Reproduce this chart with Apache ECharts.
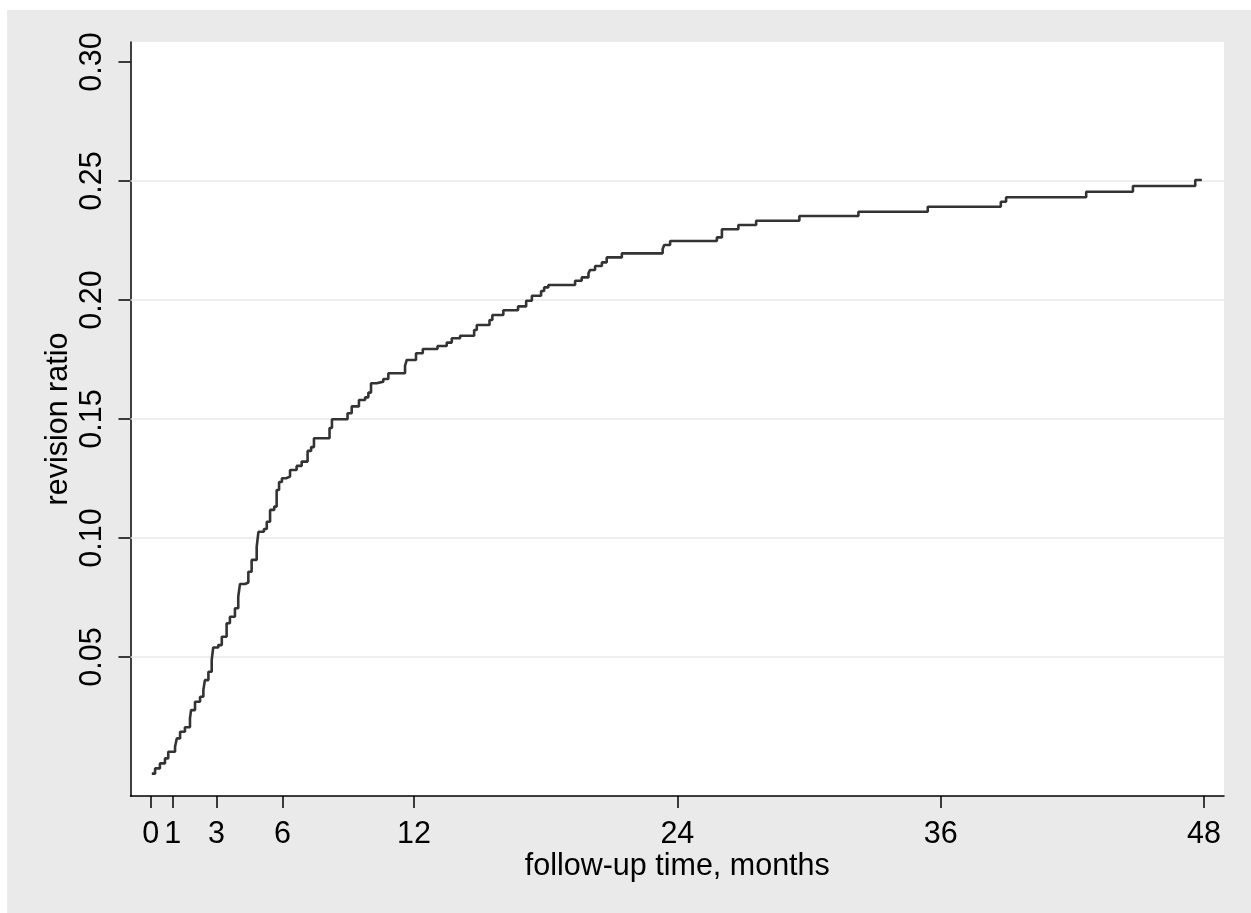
<!DOCTYPE html>
<html>
<head>
<meta charset="utf-8">
<script src="https://cdn.jsdelivr.net/npm/echarts@6/dist/echarts.min.js"></script>
<style>
  html, body { margin: 0; padding: 0; background: #fff; }
  #chart { position: absolute; left: 7px; top: 10px; width: 1244px; height: 903px; }
</style>
</head>
<body>
<div id="chart"></div>
<script>
// step points: time (months) at which the cumulative revision ratio jumps to the new value
const followUpMonths = [
  0.05, 0.20, 0.42, 0.65, 0.80, 1.11, 1.19, 1.34, 1.56, 1.79, 1.84, 2.02, 2.25, 2.40, 2.47, 2.63,
  2.78, 2.85, 3.08, 3.24, 3.46, 3.61, 3.84, 3.99, 4.07, 4.30, 4.45, 4.60, 4.83, 4.91, 5.16, 5.29,
  5.44, 5.63, 5.74, 5.85, 5.98, 6.17, 6.35, 6.65, 6.88, 7.15, 7.31, 7.44, 8.15, 8.26, 8.97, 9.16,
  9.49, 9.77, 9.92, 10.04, 10.30, 10.60, 10.83, 11.59, 11.67, 12.09, 12.40, 13.07, 13.49, 13.72,
  14.10, 14.74, 14.86, 15.44, 15.57, 16.07, 16.74, 17.11, 17.37, 17.79, 17.93, 18.12, 19.34, 19.64,
  19.95, 20.02, 20.25, 20.56, 20.78, 21.47, 23.33, 23.40, 23.67, 25.80, 26.03, 26.78, 27.59, 29.56,
  32.25, 35.41, 38.74, 38.98, 42.63, 44.76, 47.60, 47.90
];
const revisionRatio = [
  0.0010, 0.0032, 0.0053, 0.0074, 0.0102, 0.0123, 0.0158, 0.0186, 0.0205, 0.0242, 0.0277, 0.0312, 0.0333, 0.0361, 0.0403, 0.0438,
  0.0487, 0.0540, 0.0550, 0.0585, 0.0642, 0.0669, 0.0705, 0.0753, 0.0807, 0.0813, 0.0858, 0.0908, 0.0963, 0.1026, 0.1038, 0.1068,
  0.1118, 0.1132, 0.1202, 0.1235, 0.1251, 0.1258, 0.1286, 0.1303, 0.1321, 0.1366, 0.1382, 0.1419, 0.1462, 0.1499, 0.1524, 0.1553,
  0.1580, 0.1591, 0.1611, 0.1650, 0.1657, 0.1668, 0.1692, 0.1723, 0.1748, 0.1776, 0.1794, 0.1807, 0.1821, 0.1839,
  0.1850, 0.1874, 0.1895, 0.1916, 0.1937, 0.1957, 0.1973, 0.1997, 0.2018, 0.2038, 0.2053, 0.2063, 0.2081, 0.2095,
  0.2112, 0.2126, 0.2143, 0.2158, 0.2179, 0.2196, 0.2214, 0.2231, 0.2248, 0.2263, 0.2297, 0.2315, 0.2333, 0.2353,
  0.2371, 0.2392, 0.2413, 0.2432, 0.2455, 0.2479, 0.2504, 0.2504
];
const xTickValues = [0, 1, 3, 6, 12, 24, 36, 48];
const yTickValues = [0.05, 0.10, 0.15, 0.20, 0.25, 0.30];
const gridValues = [0.05, 0.10, 0.15, 0.20, 0.25];

const myChart = echarts.init(document.getElementById("chart"));

const font = "'Liberation Sans', Arial, sans-serif";
const axisColor = "#000";

const option = {
  animation: false,
  backgroundColor: "#eaeaea",
  grid: {
    left: 123.5,
    top: 32,
    right: 27,
    bottom: 117,
    show: true,
    backgroundColor: "#fff",
    borderWidth: 0,
    outerBoundsMode: "none",
  },
  xAxis: {
    type: "value",
    min: -0.92,
    max: 48.91,
    name: "follow-up time, months",
    nameLocation: "middle",
    nameGap: 55,
    nameMoveOverlap: false,
    nameTextStyle: { fontFamily: font, fontSize: 30.5, color: "#000" },
    axisLine: { show: true, onZero: false, lineStyle: { color: axisColor, width: 1.5 } },
    axisTick: { show: true, length: 12, customValues: xTickValues, lineStyle: { color: axisColor, width: 1.5 } },
    axisLabel: {
      customValues: xTickValues,
      margin: 23,
      fontFamily: font,
      fontSize: 30.5,
      color: "#000",
      showMinLabel: true,
      showMaxLabel: true,
    },
    splitLine: { show: false },
  },
  yAxis: {
    type: "value",
    min: -0.0084,
    max: 0.3084,
    name: "revision ratio",
    nameLocation: "middle",
    nameGap: 56,
    nameMoveOverlap: false,
    nameTextStyle: { fontFamily: font, fontSize: 30.5, color: "#000" },
    axisLine: { show: true, onZero: false, lineStyle: { color: axisColor, width: 1.5 } },
    axisTick: { show: true, length: 12, customValues: yTickValues, lineStyle: { color: axisColor, width: 1.5 } },
    axisLabel: {
      customValues: yTickValues,
      rotate: 90,
      margin: 22,
      fontFamily: font,
      fontSize: 30.5,
      color: "#000",
      formatter: (v) => v.toFixed(2),
    },
    splitLine: { show: false },
  },
  series: [
    {
      type: "line",
      data: [],
      silent: true,
      z: 1,
      markLine: {
        silent: true,
        z: 1,
        symbol: "none",
        label: { show: false },
        lineStyle: { color: "#e8e8e8", width: 1.7, type: "solid" },
        data: gridValues.map((v) => ({ yAxis: v })),
      },
    },
    {
      type: "line",
      step: "end",
      data: followUpMonths.map((t, i) => [t, revisionRatio[i]]),
      showSymbol: false,
      symbol: "none",
      lineStyle: { color: "#333", width: 2.6 },
      z: 6,
    },
  ],
};

myChart.setOption(option);
</script>
</body>
</html>
